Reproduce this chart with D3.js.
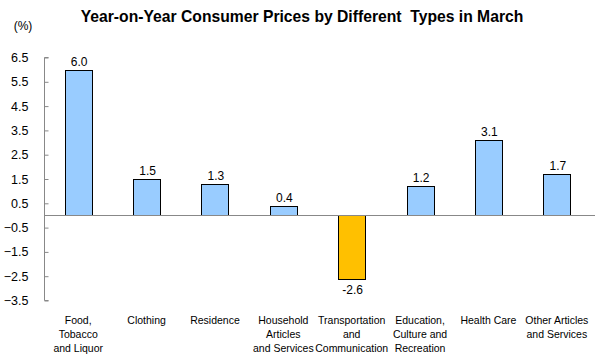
<!DOCTYPE html>
<html><head><meta charset="utf-8">
<script src="https://cdn.jsdelivr.net/npm/d3@7"></script>
<style>body{margin:0;background:#fff}svg{display:block}text{font-family:"Liberation Sans",Arial,sans-serif}</style>
</head><body><svg id="c" width="595" height="359"></svg>
<script>
const categories = [
  ["Food,","Tobacco","and Liquor"],
  ["Clothing"],
  ["Residence"],
  ["Household","Articles","and Services"],
  ["Transportation","and","Communication"],
  ["Education,","Culture and","Recreation"],
  ["Health Care"],
  ["Other Articles","and Services"]
];
const values = [6.0, 1.5, 1.3, 0.4, -2.6, 1.2, 3.1, 1.7];
const tickValues = [6.5, 5.5, 4.5, 3.5, 2.5, 1.5, 0.5, -0.5, -1.5, -2.5, -3.5];
const title = "Year-on-Year Consumer Prices by Different\u00a0 Types in March";
const unit = "(%)";

const svg = d3.select("#c");
const x = d3.scaleBand().domain(d3.range(values.length)).range([44, 591]).paddingInner(0.605).paddingOuter(0.3025);
const y = d3.scaleLinear().domain([-3.5, 6.5]).range([300.5, 57.5]);

svg.append("text").attr("x", 302).attr("y", 22).attr("text-anchor", "middle")
  .attr("font-size", 15.7).attr("font-weight", "bold").text(title);
svg.append("text").attr("x", 23).attr("y", 30).attr("text-anchor", "middle")
  .attr("font-size", 12).text(unit);

// axis
const axis = d3.axisLeft(y).tickValues(tickValues).tickSize(-4).tickPadding(16).tickFormat(d3.format(".1f"));
const gA = svg.append("g").attr("transform", "translate(44.5,0)").call(axis);
gA.select(".domain").attr("stroke", "#888").attr("d", `M4,${y(6.5)}H0V${y(-3.5)}H4`);
gA.selectAll(".tick line").attr("stroke", "#888");
gA.selectAll(".tick text").attr("font-size", 12.5).attr("font-family", '"Liberation Sans",Arial,sans-serif').attr("fill", "#000");

// bars
svg.selectAll("rect.bar").data(values).join("rect").attr("class", "bar")
  .attr("x", (d, i) => Math.round(x(i)) + 0.5)
  .attr("width", Math.round(x.bandwidth()))
  .attr("y", d => Math.round(y(Math.max(0, d))) + 0.5)
  .attr("height", d => Math.abs(Math.round(y(d)) - Math.round(y(0))))
  .attr("fill", d => d < 0 ? "#FFC000" : "#99CCFF")
  .attr("stroke", "#000").attr("stroke-width", 1);

// zero line
svg.append("line").attr("x1", 44.5).attr("x2", 595).attr("y1", Math.round(y(0)) + 0.5).attr("y2", Math.round(y(0)) + 0.5)
  .attr("stroke", "#888");

// value labels
svg.selectAll("text.val").data(values).join("text").attr("class", "val")
  .attr("x", (d, i) => x(i) + x.bandwidth() / 2 + 1)
  .attr("y", d => d >= 0 ? y(d) - 4 : y(d) + 15)
  .attr("text-anchor", "middle").attr("font-size", 12)
  .text(d => d3.format(".1f")(d).replace("−", "-"));

// category labels
const cg = svg.selectAll("g.cat").data(categories).join("g").attr("class", "cat");
cg.each(function (lines, i) {
  const g = d3.select(this);
  lines.forEach((l, j) => {
    g.append("text").attr("x", x(i) + x.bandwidth() / 2).attr("y", 324 + j * 14)
      .attr("text-anchor", "middle").attr("font-size", 10.5).text(l);
  });
});
</script></body></html>
